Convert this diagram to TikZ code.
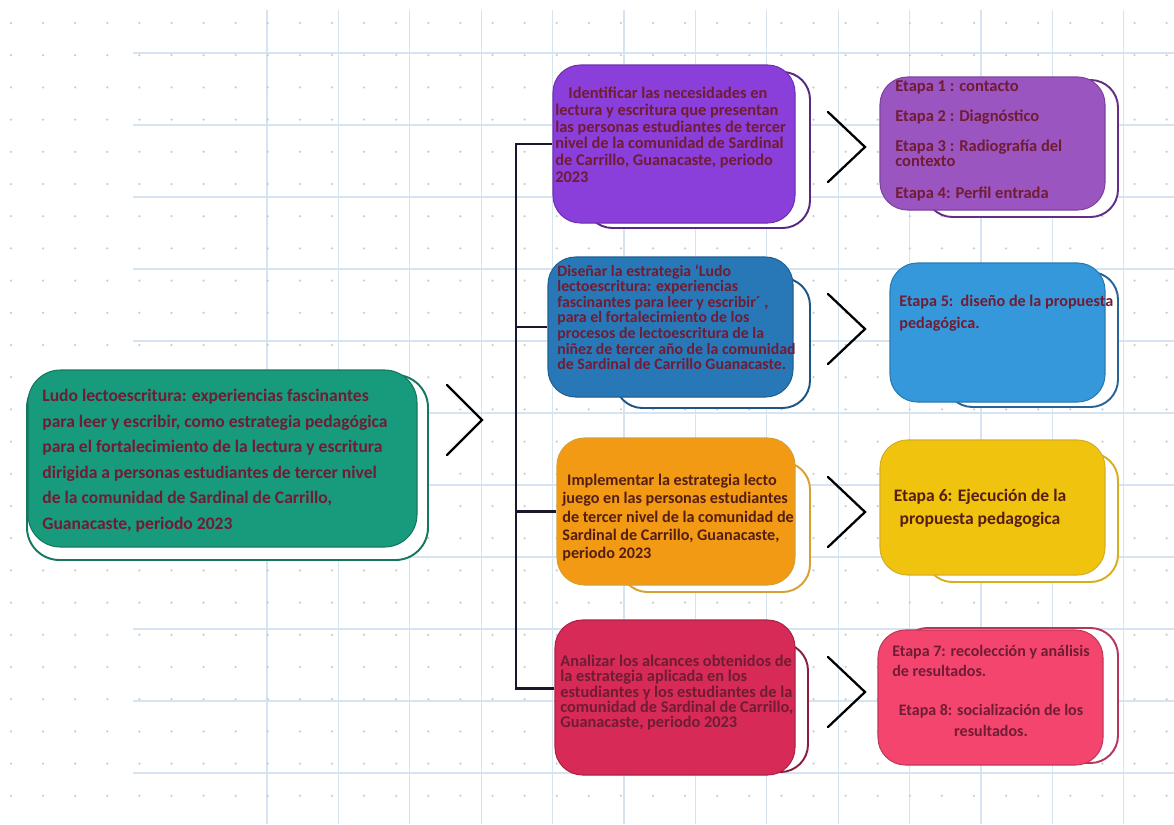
\documentclass[tikz,border=0pt]{standalone}
\usepackage{fontspec}
\setmainfont{Carlito}
\usepackage{tikz}
\usetikzlibrary{positioning,calc}
\definecolor{temafill}{RGB}{24,154,124}
\definecolor{temaline}{RGB}{20,120,95}
\definecolor{violeta}{RGB}{138,62,218}
\definecolor{violetaline}{RGB}{88,40,130}
\definecolor{morado}{RGB}{155,85,192}
\definecolor{moradoline}{RGB}{100,45,135}
\definecolor{azul}{RGB}{40,120,183}
\definecolor{azulline}{RGB}{30,85,130}
\definecolor{celeste}{RGB}{52,152,219}
\definecolor{celesteline}{RGB}{40,100,150}
\definecolor{naranja}{RGB}{242,154,20}
\definecolor{naranjaline}{RGB}{215,160,50}
\definecolor{amarillo}{RGB}{240,195,15}
\definecolor{amarilloline}{RGB}{215,175,30}
\definecolor{carmin}{RGB}{215,42,87}
\definecolor{carminline}{RGB}{140,30,60}
\definecolor{rosa}{RGB}{244,69,110}
\definecolor{rosaline}{RGB}{180,55,90}
\definecolor{inkred}{RGB}{112,28,52}
\definecolor{inkbrown}{RGB}{85,30,20}
\definecolor{gridblue}{RGB}{214,228,242}
\definecolor{dotgray}{RGB}{205,205,205}
\definecolor{trunkcol}{RGB}{28,22,45}
\tikzstyle{front} = [rectangle, rounded corners=0.55cm, line width=0.6pt]
\tikzstyle{back} = [rectangle, rounded corners=0.55cm, fill=white, line width=1.1pt]
\tikzstyle{txt} = [anchor=north west, align=left, inner sep=0pt, text=inkred,
                   font=\bfseries\fontsize{9}{8.9}\selectfont]
\tikzstyle{chev} = [line width=1.3pt, black, line cap=round]
\tikzstyle{trunk} = [line width=1.6pt, trunkcol]

\begin{document}
\begin{tikzpicture}
                \useasboundingbox (0,0) rectangle (23.48,-16.48);
                % paper background
                \fill[white] (0,0) rectangle (23.48,-16.48);
                \foreach \k in {0,...,12}
                    \draw[gridblue, line width=0.6pt] (5.34+1.428*\k,-0.2) -- (5.34+1.428*\k,-16.48);
                \foreach \k in {0,...,10}
                    \draw[gridblue, line width=0.6pt] (2.66,-1.06-1.44*\k) -- (23.48,-1.06-1.44*\k);
                \foreach \i in {0,...,36}
                    \foreach \j in {0,...,24}
                        \fill[dotgray] (0.22+0.642*\i,-0.46-0.644*\j) circle (0.025);
                
                % Tema central
                \node[back, draw=temaline, rounded corners=0.65cm, minimum width=8.02cm, minimum height=3.70cm] (temab) at (4.55,-9.35) {};
                \node[front, fill=temafill, draw=temaline, rounded corners=0.65cm, minimum width=7.78cm, minimum height=3.54cm] (tema) at (4.45,-9.17) {};
                \node[txt, font=\bfseries\fontsize{10}{14.5}\selectfont] (ttema) at (0.84,-7.78)
                    {Ludo lectoescritura: experiencias fascinantes\\
                     para leer y escribir, como estrategia pedagógica\\
                     para el fortalecimiento de la lectura y escritura\\
                     dirigida a personas estudiantes de tercer nivel\\
                     de la comunidad de Sardinal de Carrillo,\\
                     Guanacaste, periodo 2023};
                \draw[chev] (8.94,-7.70) -- (9.64,-8.40) -- (8.94,-9.10);
                
                % Objetivos
                \node[back, draw=violetaline, minimum width=4.50cm, minimum height=3.12cm] (obj1b) at (13.95,-3.00) {};
                \node[front, fill=violeta, draw=violeta!80!black, minimum width=4.84cm, minimum height=3.16cm] (obj1) at (13.48,-2.88) {};
                \node[txt, font=\bfseries\fontsize{9.3}{9.5}\selectfont] (tobj1) at (11.10,-1.74)
                    {\hspace*{0.8em}Identificar las necesidades en\\
                     lectura y escritura que presentan\\
                     las personas estudiantes de tercer\\
                     nivel de la comunidad de Sardinal\\
                     de Carrillo, Guanacaste, periodo\\
                     2023};
                
                \node[back, draw=azulline, minimum width=3.90cm, minimum height=2.60cm] (obj2b) at (14.25,-6.86) {};
                \node[front, fill=azul, draw=azul!80!black, minimum width=4.90cm, minimum height=2.80cm] (obj2) at (13.41,-6.54) {};
                \node[txt] (tobj2) at (11.14,-5.28)
                    {Diseñar la estrategia ‘Ludo\\
                     lectoescritura: experiencias\\
                     fascinantes para leer y escribir´ ,\\
                     para el fortalecimiento de los\\
                     procesos de lectoescritura de la\\
                     niñez de tercer año de la comunidad\\
                     de Sardinal de Carrillo Guanacaste.};
                
                \node[back, draw=naranjaline, minimum width=3.80cm, minimum height=2.60cm] (obj3b) at (14.30,-10.54) {};
                \node[front, fill=naranja, draw=naranjaline, minimum width=4.76cm, minimum height=2.94cm] (obj3) at (13.52,-10.23) {};
                \node[txt, text=inkbrown, font=\bfseries\fontsize{9.2}{10.4}\selectfont] (tobj3) at (11.24,-9.48)
                    {\hspace*{0.3em}Implementar la estrategia lecto\\
                     juego en las personas estudiantes\\
                     de tercer nivel de la comunidad de\\
                     Sardinal de Carrillo, Guanacaste,\\
                     periodo 2023};
                
                \node[back, draw=carminline, minimum width=2.56cm, minimum height=2.58cm] (obj4b) at (14.88,-14.15) {};
                \node[front, fill=carmin, draw=carmin!80!black, minimum width=4.80cm, minimum height=3.10cm] (obj4) at (13.50,-13.95) {};
                \node[txt, font=\bfseries\fontsize{9.3}{8.6}\selectfont] (tobj4) at (11.20,-13.10)
                    {Analizar los alcances obtenidos de\\
                     la estrategia aplicada en los\\
                     estudiantes y los estudiantes de la\\
                     comunidad de Sardinal de Carrillo,\\
                     Guanacaste, periodo 2023};
                
                % Etapas
                \node[back, draw=moradoline, minimum width=3.86cm, minimum height=2.74cm] (etapa1b) at (20.43,-2.97) {};
                \node[front, fill=morado, draw=morado!80!black, minimum width=4.50cm, minimum height=2.66cm] (etapa1) at (19.85,-2.87) {};
                \node[txt, font=\bfseries\fontsize{9.4}{8.6}\selectfont] (tetapa1) at (17.90,-1.60)
                    {Etapa 1 : contacto\\[8.5pt]
                     Etapa 2 : Diagnóstico\\[8.5pt]
                     Etapa 3 : Radiografía del\\
                     contexto\\[9.5pt]
                     Etapa 4: Perfil entrada};
                
                \node[back, draw=celesteline, minimum width=3.46cm, minimum height=2.70cm] (etapa2b) at (20.63,-6.79) {};
                \node[front, fill=celeste, draw=celeste!80!black, minimum width=4.30cm, minimum height=2.78cm] (etapa2) at (19.95,-6.65) {};
                \node[txt, font=\bfseries\fontsize{9.2}{12.5}\selectfont] (tetapa2) at (17.98,-5.90)
                    {Etapa 5:~~diseño de la propuesta\\
                     pedagógica.};
                
                \node[back, draw=amarilloline, minimum width=3.86cm, minimum height=2.58cm] (etapa3b) at (20.43,-10.35) {};
                \node[front, fill=amarillo, draw=amarilloline, minimum width=4.50cm, minimum height=2.70cm] (etapa3) at (19.85,-10.15) {};
                \node[txt, anchor=north, align=center, text=inkbrown, font=\bfseries\fontsize{10}{13}\selectfont] (tetapa3) at (19.60,-9.78)
                    {Etapa 6: Ejecución de la\\
                     propuesta pedagogica};
                
                \node[back, draw=rosaline, minimum width=4.36cm, minimum height=2.70cm] (etapa4b) at (20.18,-13.91) {};
                \node[front, fill=rosa, draw=rosa!80!black, minimum width=4.50cm, minimum height=2.70cm] (etapa4) at (19.81,-13.95) {};
                \node[txt, font=\bfseries\fontsize{9.1}{11.4}\selectfont] (tetapa4) at (17.84,-12.90)
                    {Etapa 7: recolección y análisis\\
                     de resultados.};
                \node[txt, anchor=north, align=center, font=\bfseries\fontsize{9.1}{11.8}\selectfont] (tetapa5) at (19.82,-14.08)
                    {Etapa 8: socialización de los\\
                     resultados.};
                
                % Conectores
                \coordinate (trunk) at (10.32,0);
                \coordinate (fin4) at ([yshift=0.18cm]obj4.west);
                \draw[trunk] (obj1.west) -- (obj1.west -| trunk) -- (fin4 -| trunk) -- (fin4);
                \draw[trunk] (obj2.west -| trunk) -- (obj2.west);
                \draw[trunk] (obj3.west -| trunk) -- (obj3.west);
                \foreach \y in {-2.94,-6.58,-10.24,-13.84}
                    \draw[chev] (16.56,\y+0.70) -- (17.30,\y) -- (16.56,\y-0.70);
            \end{tikzpicture}
\end{document}
